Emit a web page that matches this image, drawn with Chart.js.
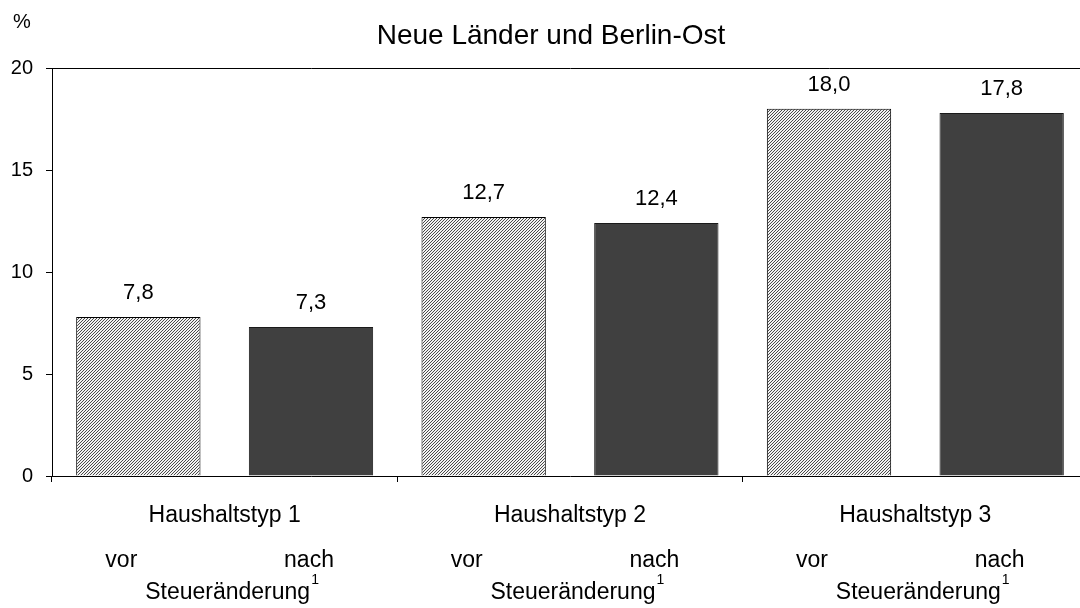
<!DOCTYPE html>
<html>
<head>
<meta charset="utf-8">
<script src="https://cdn.jsdelivr.net/npm/chart.js@4"></script>
<style>
  html, body { margin: 0; padding: 0; background: #fff; overflow: hidden; }
  #wrap { position: absolute; left: 0; top: 0; width: 1090px; height: 608px; }
</style>
</head>
<body>
<div id="wrap"><canvas id="chart" width="1090" height="608"></canvas></div>
<script>
// data
const categories = ['Haushaltstyp 1', 'Haushaltstyp 2', 'Haushaltstyp 3'];
const vorValues = [7.8, 12.7, 18.0];
const nachValues = [7.3, 12.4, 17.8];
const yTicks = [0, 5, 10, 15, 20];
const seriesNames = ['vor', 'nach'];
const subLabel = 'Steueränderung';
const titleText = 'Neue Länder und Berlin-Ost';
const unitText = '%';

const FONT = '"Liberation Sans", Arial, sans-serif';

// fine diagonal hatch like the original
function hatch() {
  const c = document.createElement('canvas');
  c.width = 3; c.height = 3;
  const g = c.getContext('2d');
  for (let x = 0; x < 3; x++) {
    for (let y = 0; y < 3; y++) {
      g.fillStyle = ((x + y) % 3 === 0) ? '#4a4a4a' : '#f2f2f2';
      g.fillRect(x, y, 1, 1);
    }
  }
  return g.createPattern(c, 'repeat');
}

const fmt = v => v.toFixed(1).replace('.', ',');

const textPlugin = {
  id: 'texts',
  afterDraw(chart) {
    const ctx = chart.ctx;
    const xs = chart.scales.x;
    ctx.save();
    ctx.fillStyle = '#000';

    // title and unit
    ctx.font = '28px ' + FONT;
    ctx.textAlign = 'center';
    ctx.textBaseline = 'alphabetic';
    ctx.fillText(titleText, 551, 44);
    ctx.font = '20px ' + FONT;
    ctx.textAlign = 'left';
    ctx.fillText(unitText, 13, 28);

    // value labels
    ctx.font = '22px ' + FONT;
    ctx.textAlign = 'center';
    chart.data.datasets.forEach((ds, i) => {
      chart.getDatasetMeta(i).data.forEach((bar, j) => {
        ctx.fillText(fmt(ds.data[j]), bar.x, bar.y - 18);
      });
    });

    // vor / nach and Steueränderung under each group
    const m0 = chart.getDatasetMeta(0).data;
    const m1 = chart.getDatasetMeta(1).data;
    categories.forEach((c, j) => {
      ctx.font = '23px ' + FONT;
      ctx.textAlign = 'center';
      ctx.fillText(seriesNames[0], m0[j].x - 17, 567);
      ctx.fillText(seriesNames[1], m1[j].x - 2, 567);
      const cx = xs.getPixelForValue(j);
      ctx.fillText(subLabel, cx + 3, 599);
      const w = ctx.measureText(subLabel).width;
      ctx.font = '14px ' + FONT;
      ctx.textAlign = 'left';
      ctx.fillText('1', cx + 3 + w / 2 + 1, 584);
    });
    ctx.restore();
  }
};

new Chart(document.getElementById('chart'), {
  type: 'bar',
  data: {
    labels: categories,
    datasets: [
      {
        label: seriesNames[0],
        data: vorValues,
        backgroundColor: hatch(),
        borderColor: '#000',
        borderWidth: 1,
        borderSkipped: 'bottom',
        categoryPercentage: 1.0,
        barPercentage: 0.72
      },
      {
        label: seriesNames[1],
        data: nachValues,
        backgroundColor: '#404040',
        borderColor: '#1a1a1a',
        borderWidth: 1,
        borderSkipped: 'bottom',
        categoryPercentage: 1.0,
        barPercentage: 0.72
      }
    ]
  },
  options: {
    responsive: false,
    animation: false,
    layout: { padding: { top: 68, left: 0, right: 2, bottom: 0 } },
    plugins: {
      legend: { display: false },
      tooltip: { enabled: false },
      title: { display: false }
    },
    scales: {
      x: {
        afterFit: s => { s.height = 132; },
        border: { color: '#000', width: 1 },
        grid: {
          offset: true,
          drawOnChartArea: false,
          color: '#000',
          tickLength: 6
        },
        ticks: {
          color: '#000',
          font: { family: FONT, size: 23 },
          padding: 20,
          maxRotation: 0
        }
      },
      y: {
        min: 0,
        max: 20,
        afterFit: s => { s.width = 52; },
        afterBuildTicks: s => { s.ticks = yTicks.map(v => ({ value: v })); },
        border: { color: '#000', width: 1 },
        grid: {
          color: c => (c.tick && c.tick.value === 20) ? '#000' : 'rgba(0,0,0,0)',
          tickColor: '#000',
          tickLength: 6
        },
        ticks: {
          color: '#000',
          font: { family: FONT, size: 20 },
          padding: 13
        }
      }
    }
  },
  plugins: [textPlugin]
});
</script>
</body>
</html>
